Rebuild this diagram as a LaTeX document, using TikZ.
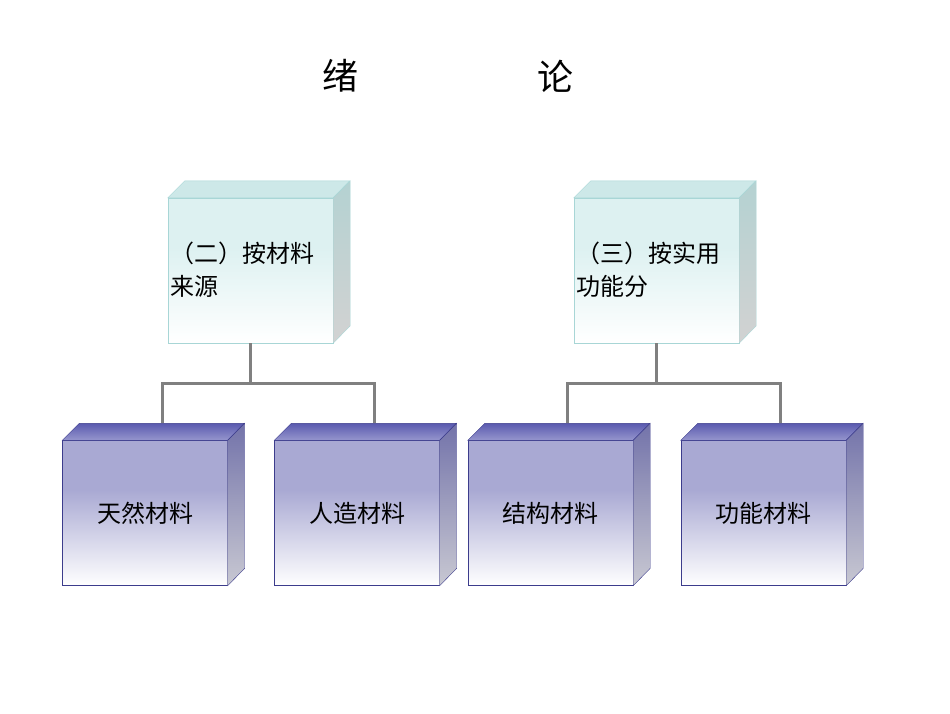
\documentclass[tikz,border=0pt]{standalone}
\usepackage{fontspec}
\setmainfont{Noto Sans CJK SC}
\usetikzlibrary{calc}
\definecolor{pb}{HTML}{A9A9D3}
\definecolor{lb}{HTML}{DDF1F1}
\pgfdeclareverticalshading{purfront}{100bp}{color(0bp)=(white); color(25bp)=(white); color(58bp)=(pb); color(100bp)=(pb)}
\pgfdeclareverticalshading{ltfront}{100bp}{color(0bp)=(white); color(25bp)=(white); color(58bp)=(lb); color(100bp)=(lb)}
\tikzset{
 pfront/.style={draw=purple!0!blue!40!black!80, draw={rgb,255:red,60;green,60;blue,140}, shading=purfront, minimum width=165pt, minimum height=145pt, inner sep=0pt, font=\fontsize{24}{28}\selectfont},
 lfront/.style={draw={rgb,255:red,168;green,214;blue,214}, shading=ltfront, minimum width=165pt, minimum height=145pt, inner sep=0pt},
 ptop/.style={draw={rgb,255:red,60;green,60;blue,140}, top color={rgb,255:red,90;green,90;blue,175}, bottom color={rgb,255:red,150;green,150;blue,205}},
 pside/.style={draw={rgb,255:red,60;green,60;blue,140}, top color={rgb,255:red,115;green,115;blue,170}, bottom color={rgb,255:red,200;green,200;blue,210}},
 ltop/.style={draw={rgb,255:red,168;green,214;blue,214}, fill={rgb,255:red,205;green,232;blue,232}},
 lside/.style={draw={rgb,255:red,168;green,214;blue,214}, top color={rgb,255:red,180;green,210;blue,210}, bottom color={rgb,255:red,210;green,210;blue,210}},
 conn/.style={draw={rgb,255:red,128;green,128;blue,128}, line width=3pt},
 ttxt/.style={font=\fontsize{24}{33}\selectfont, align=left, text width=170pt, anchor=north west, inner sep=0pt}
}
\newcommand\mybox[3]{% name, topstyle, sidestyle
 \path[#2] (#1.north west) -- ++(17,-17) -- ++(165,0) -- (#1.north east) -- cycle;
 \path[#3] (#1.north east) -- ++(17,-17) -- ++(0,145) -- (#1.south east) -- cycle;
}
\begin{document}
\begin{tikzpicture}[x=1pt,y=-1pt]
\useasboundingbox[fill=white] (0,0) rectangle (950,713);
\node[font=\fontsize{36}{40}\selectfont] (t) at (340,76) {绪};
\node[font=\fontsize{36}{40}\selectfont] (t2) at (555,76) {论};
% top boxes
\node[lfront] (a) at (250.5,270.5) {};
\mybox{a}{ltop}{lside}
\node[ttxt] (at) at (170,242) {（二）按材料\\来源};
\node[lfront] (b) at (656.5,270.5) {};
\mybox{b}{ltop}{lside}
\node[ttxt] (bt) at (576,242) {（三）按实用\\功能分};
% bottom boxes
\node[pfront] (c1) at (145,513) {天然材料};
\mybox{c1}{ptop}{pside}
\node[pfront] (c2) at (357,513) {人造材料};
\mybox{c2}{ptop}{pside}
\node[pfront] (c3) at (550.5,513) {结构材料};
\mybox{c3}{ptop}{pside}
\node[pfront] (c4) at (763.5,513) {功能材料};
\mybox{c4}{ptop}{pside}
% connectors
\coordinate (c1t) at ($(c1.north)+(17,-17)$);
\coordinate (c2t) at ($(c2.north)+(17,-17)$);
\coordinate (c3t) at ($(c3.north)+(17,-17)$);
\coordinate (c4t) at ($(c4.north)+(17,-17)$);
\draw[conn] (a.south) -- ++(0,40) coordinate (aj) -| (c1t);
\draw[conn] (aj) -| (c2t);
\draw[conn] (b.south) -- ++(0,40) coordinate (bj) -| (c3t);
\draw[conn] (bj) -| (c4t);
\end{tikzpicture}
\end{document}
